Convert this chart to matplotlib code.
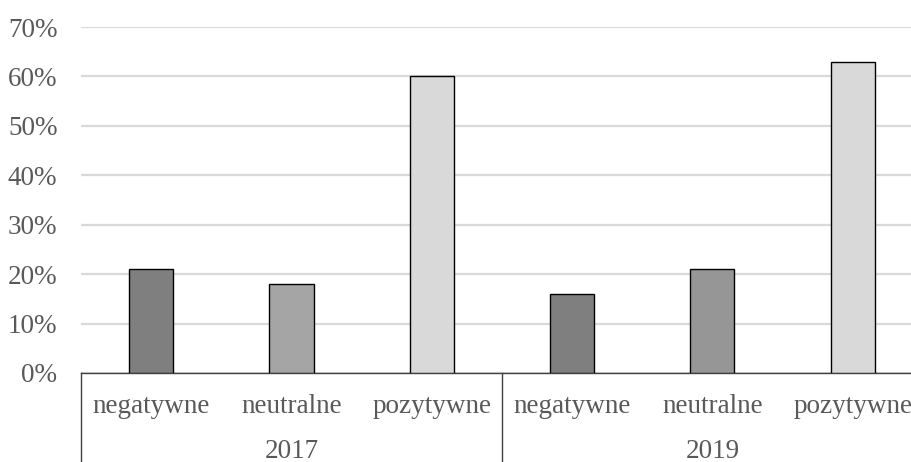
import matplotlib.pyplot as plt
from matplotlib.transforms import blended_transform_factory

# Data
years = ['2017', '2019']
categories = ['negatywne', 'neutralne', 'pozytywne']
values_2017 = [0.21, 0.18, 0.60]
values_2019 = [0.16, 0.21, 0.63]
colors_2017 = ['#7f7f7f', '#a5a5a5', '#d9d9d9']
colors_2019 = ['#7f7f7f', '#969696', '#d9d9d9']
y_ticks = [0, 0.1, 0.2, 0.3, 0.4, 0.5, 0.6, 0.7]

plt.rcParams['font.family'] = ['Liberation Serif', 'DejaVu Serif']
text_color = '#595959'
font_size = 19.5

fig = plt.figure(figsize=(9.12, 4.62), dpi=100)
ax = fig.add_axes([81 / 912, 89 / 462, 1 - 81 / 912, 346 / 462])

values = values_2017 + values_2019
colors = colors_2017 + colors_2019
positions = list(range(len(values)))
ax.bar(positions, values, width=0.315, color=colors, edgecolor='black',
       linewidth=1.0, zorder=3)

ax.set_ylim(0, 0.7)
ax.set_xlim(-0.5, 5.423)
ax.set_yticks(y_ticks)
ax.set_yticklabels([f'{int(round(t * 100))}%' for t in y_ticks])
ax.yaxis.grid(True, color='#d9d9d9', linewidth=1.6, zorder=0)
ax.set_axisbelow(True)

ax.set_xticks(positions)
ax.set_xticklabels(categories * len(years))
ax.tick_params(axis='both', length=0, labelsize=font_size, labelcolor=text_color)
ax.tick_params(axis='y', pad=17)
ax.tick_params(axis='x', pad=15)

for side in ['top', 'right', 'left']:
    ax.spines[side].set_visible(False)
ax.spines['bottom'].set_color('#404040')
ax.spines['bottom'].set_linewidth(1.0)

# Year group labels and separators below the axis
trans = blended_transform_factory(ax.transData, ax.transAxes)
for i, year in enumerate(years):
    center = i * len(categories) + (len(categories) - 1) / 2
    ax.text(center, -78 / 346, year, transform=trans, ha='center', va='center',
            fontsize=font_size, color=text_color)
for x in [-0.5, 2.5, 5.5]:
    ax.plot([x, x], [0, -0.3], transform=trans, color='#404040',
            linewidth=1.0, clip_on=False)

fig.savefig('out.png', dpi=100)
